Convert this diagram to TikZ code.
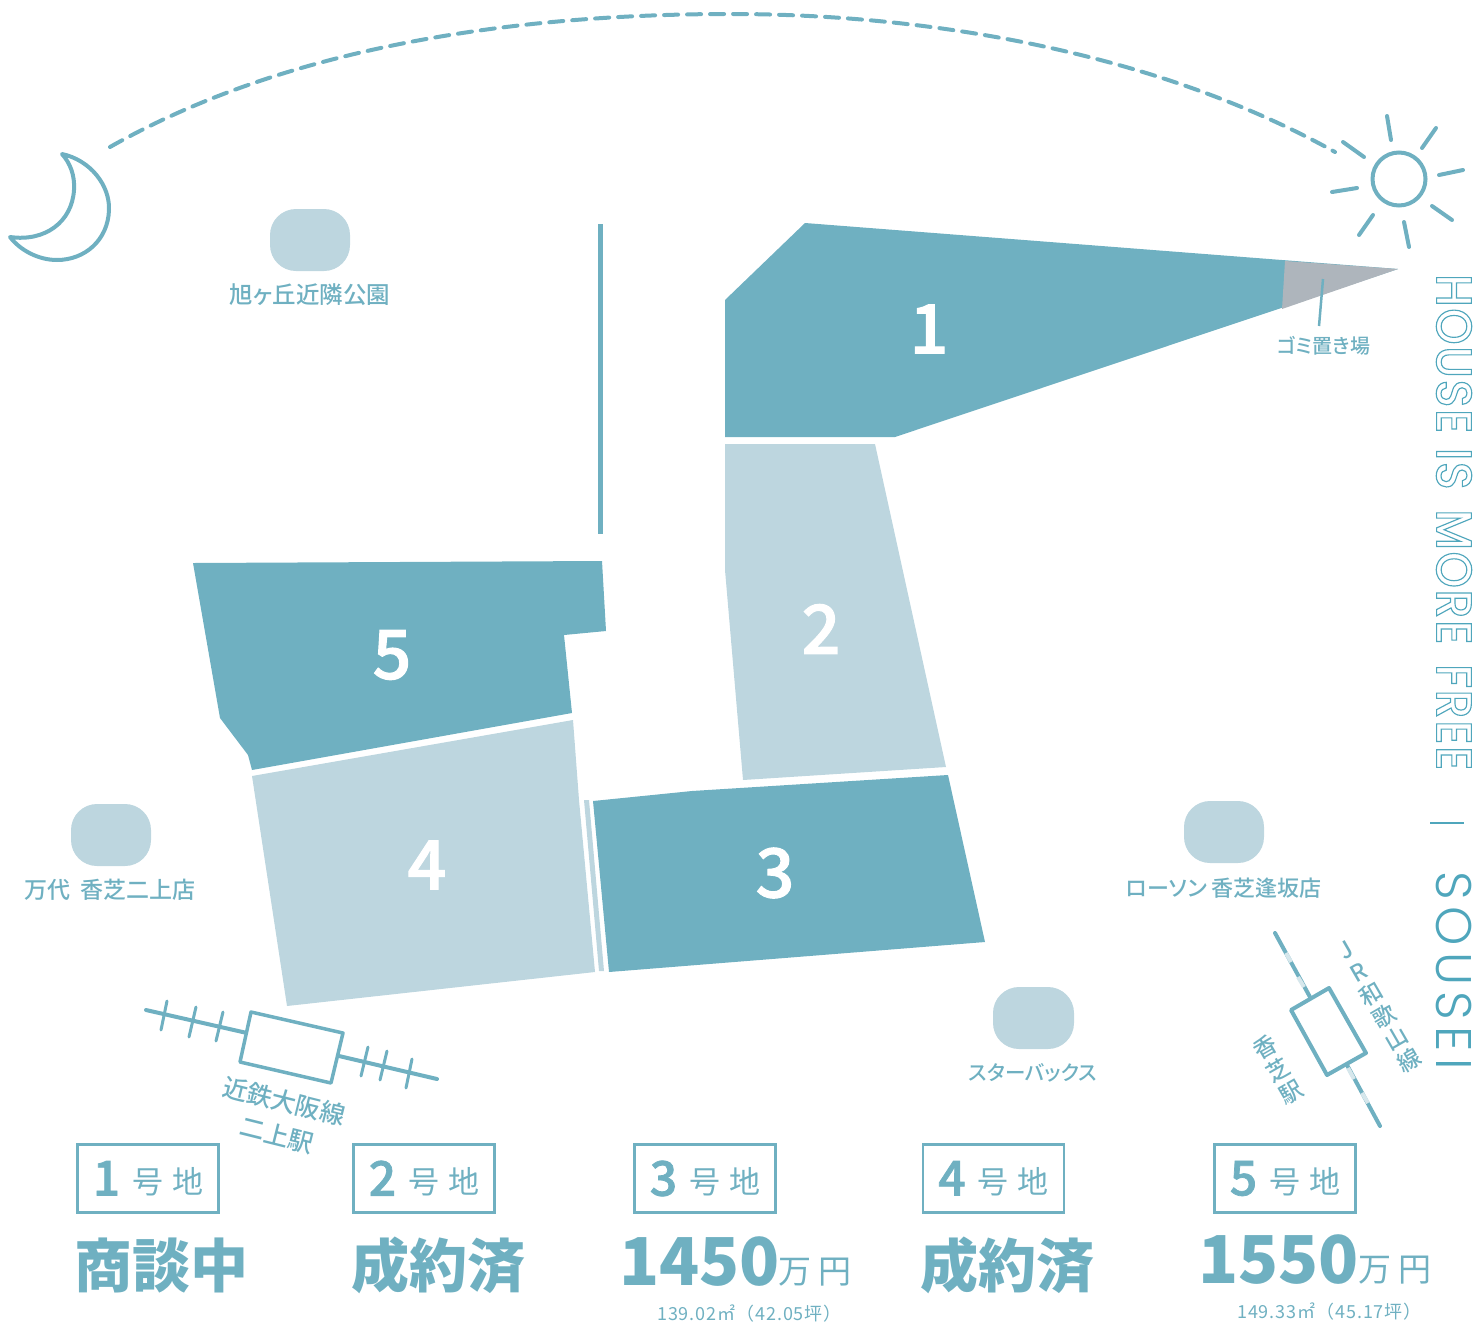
\documentclass[tikz,border=0pt]{standalone}
\usepackage{fontspec}
\setmainfont[RawFeature=+palt]{Noto Sans CJK JP}
\newfontfamily\jpmed[RawFeature=+palt]{Noto Sans CJK JP Medium}
\newfontfamily\jpdig[FakeBold=1.5]{Noto Sans CJK JP Medium}
\newfontfamily\jparea[LetterSpace=5]{Noto Sans CJK JP}
\newfontfamily\latinlight[UprightFont=* Light,LetterSpace=13]{Poppins}
\newfontfamily\latinout[UprightFont=* Medium,LetterSpace=3.5,FakeStretch=0.92]{Poppins}
\definecolor{main}{HTML}{6FB0C1}
\definecolor{pale}{HTML}{BDD6DF}
\definecolor{bin}{HTML}{AEB5BC}
\definecolor{brand}{HTML}{4FA6BC}
\definecolor{gapc}{HTML}{D6E7EC}
\newcommand{\outlined}[1]{\special{pdf:code 1 Tr 1.15 w}#1\special{pdf:code 0 Tr 1 w}}
\tikzset{
 plotdark/.style={fill=main,draw=none},
 plotpale/.style={fill=pale,draw=none},
 plotnum/.style={text=white,font=\fontsize{68}{68}\jpdig\selectfont,inner sep=0pt},
 blob/.style={fill=pale,draw=none,rounded corners=26pt},
 shop/.style={text=main,font=\fontsize{23}{23}\jpmed\selectfont,inner sep=0pt},
 rail/.style={draw=main,line width=4pt,line cap=round},
 station/.style={draw=main,line width=4pt,line join=round,fill=white},
 ray/.style={draw=main,line width=4pt,line cap=round},
 lotbox/.style={draw=main,line width=2.5pt,text=main,minimum width=141pt,minimum height=68pt,inner sep=0pt},
 status/.style={text=main,font=\fontsize{58}{58}\selectfont\bfseries,inner sep=0pt},
 price/.style={text=main,font=\fontsize{66}{66}\selectfont\bfseries,inner sep=0pt,anchor=base west},
 unit/.style={text=main,font=\fontsize{33}{33}\selectfont,inner sep=0pt,anchor=base west},
 area/.style={text=main,font=\fontsize{18}{18}\jparea\selectfont,inner sep=0pt,anchor=west},
}
\newcommand{\lotlabel}[1]{\raisebox{-4pt}{\fontsize{48}{48}\jpdig\selectfont #1}\hspace{12pt}\raisebox{-2pt}{\fontsize{31}{31}\selectfont 号\hspace{9pt}地}}
\begin{document}
\begin{tikzpicture}[x=1pt,y=-1pt]
\useasboundingbox (0,0) rectangle (1474,1323);
% arc
\draw[main,line width=4pt,dash pattern=on 14pt off 9pt,line cap=round] (110,147) .. controls (290,45) and (520,14) .. (730,14) .. controls (950,14) and (1170,60) .. (1335,152);
% moon
\draw[main,line width=4pt,line join=round,fill=white] (62,154) .. controls (90,160) and (110,185) .. (109,210) .. controls (108,240) and (85,260) .. (57,260) .. controls (38,260) and (20,250) .. (10,237) .. controls (45,242) and (72,222) .. (74,190) .. controls (75,175) and (70,163) .. (62,154) -- cycle;
% sun
\draw[main,line width=4pt] (1399,179) circle (26.5);
\foreach \a/\b/\c/\d in {1387/116/1391/140,1436/128/1422/148,1463/170/1439/175,1432/206/1452/220,1404/222/1409/247,1373/215/1359/235,1357/188/1332/192,1364/157/1343/142}
 \draw[ray] (\a,\b) -- (\c,\d);
% road line
\draw[main,line width=5pt] (600,224) -- (600,534);
% plots
\fill[plotdark] (805,223) -- (1398,269) -- (895,437) -- (725,437) -- (725,300) -- cycle;
\fill[bin] (1285,261) -- (1398,269) -- (1282,309) -- cycle;
\fill[plotpale] (725,444) -- (875,444) -- (946,767) -- (743,780) -- (725,570) -- cycle;
\fill[plotdark] (593,801) -- (692,791) -- (948,775) -- (985,942) -- (609,972) -- cycle;
\fill[plotpale] (584,800) -- (589,800) -- (604,971) -- (599,971) -- cycle;
\fill[plotpale] (573,720) -- (579,800) -- (595,972) -- (287,1006) -- (252,776) -- cycle;
\fill[plotdark] (193,563) -- (602,561) -- (606,631) -- (564,635) -- (572,713) -- (252,770) -- (248,755) -- (220,718) -- cycle;
\node[plotnum] (n1) at (929,329) {1};
\node[plotnum] (n2) at (821,629) {2};
\node[plotnum] (n3) at (775,873) {3};
\node[plotnum] (n4) at (427,865) {4};
\node[plotnum] (n5) at (392,655) {5};
% bin label
\node[shop,font=\fontsize{20}{20}\jpmed\selectfont] (binlabel) at (1324,346) {ゴミ置き場};
\coordinate (binpt) at (1323,279);
\draw[main,line width=2.5pt] (binpt) -- (1319,326);
% blobs
\fill[blob] (270,209) rectangle (350,271);
\fill[blob] (71,804) rectangle (151,866);
\fill[blob] (1184,801) rectangle (1264,863);
\fill[blob] (993,987) rectangle (1074,1049);
\node[shop,font=\fontsize{23.5}{23.5}\jpmed\selectfont] (s1) at (310,295) {旭ヶ丘近隣公園};
\node[shop] (s2) at (110,890) {万代\hspace{4pt} 香芝二上店};
\node[shop,font=\fontsize{22}{22}\jpmed\selectfont] (s3) at (1224,888) {ローソン 香芝逢坂店};
\node[shop,font=\fontsize{20.5}{20.5}\jpmed\selectfont] (s4) at (1033,1073) {スターバックス};
% left station
\draw[rail] (146,1010) -- (247,1033);
\draw[rail] (339,1056) -- (437,1079);
\foreach \a/\b/\c/\d in {167/1001/161/1030,196/1007/189/1037,223/1012/216/1041,368/1047/361/1076,387/1051/380/1080,412/1059/406/1088}
 \draw[main,line width=3pt,line cap=round] (\a,\b) -- (\c,\d);
\draw[station,line width=3.5pt] (251,1012) -- (343,1033) -- (331,1083) -- (240,1062) -- cycle;
\node[shop,font=\fontsize{25}{25}\jpmed\selectfont,rotate=-14] (l1) at (284,1101) {近鉄大阪線};
\node[shop,font=\fontsize{25}{25}\jpmed\selectfont,rotate=-14] (l2) at (277,1135) {二上駅};
% right station
\draw[rail] (1275,933) -- (1310,997);
\draw[rail] (1347,1065) -- (1380,1126);
\foreach \a/\b/\c/\d in {1286/953/1291/962,1298/977/1304/987,1348/1068/1354/1079,1362/1093/1368/1103}
 \draw[gapc,line width=4pt] (\a,\b) -- (\c,\d);
\draw[station] (1329,988) -- (1366,1053) -- (1327,1075) -- (1291,1010) -- cycle;
\node[shop,rotate=30,align=center,font=\fontsize{23}{25.4}\jpmed\selectfont] (r1) at (1378,1006) {J\\R\\和\\歌\\山\\線};
\node[shop,rotate=30,align=center,font=\fontsize{23}{26}\jpmed\selectfont] (r2) at (1278,1070) {香\\芝\\駅};
% brand
\node[text=brand,rotate=-90,anchor=west,inner sep=0pt,font=\fontsize{50}{50}\latinout\selectfont] (brand1) at (1454,274) {\outlined{HOUSE\hspace{1pt} IS\hspace{6pt} MORE\hspace{6pt} FREE}};
\draw[brand,line width=2.5pt] (1430,823) -- (1464,823);
\node[text=brand,rotate=-90,anchor=west,inner sep=0pt,font=\fontsize{50}{50}\latinlight\selectfont] (brand2) at (1454,871) {SOUSEI};
% boxes
\node[lotbox] (b1) at (148,1178.5) {\lotlabel{1}};
\node[lotbox] (b2) at (424,1178.5) {\lotlabel{2}};
\node[lotbox] (b3) at (705,1178.5) {\lotlabel{3}};
\node[lotbox] (b4) at (993.5,1178.5) {\lotlabel{4}};
\node[lotbox] (b5) at (1285,1178.5) {\lotlabel{5}};
\node[status] (st1) at (161,1265) {商談中};
\node[status] (st2) at (438,1265) {成約済};
\node[status] (st4) at (1007,1265) {成約済};
\node[price] (p3) at (619,1285) {1450};
\node[unit] (u3) at (778,1283) {万\hspace{7pt}円};
\node[area] (a3) at (657,1313) {139.02㎡（42.05坪）};
\node[price] (p5) at (1198,1283) {1550};
\node[unit] (u5) at (1358,1281) {万\hspace{7pt}円};
\node[area] (a5) at (1237,1311) {149.33㎡（45.17坪）};
\end{tikzpicture}
\end{document}
